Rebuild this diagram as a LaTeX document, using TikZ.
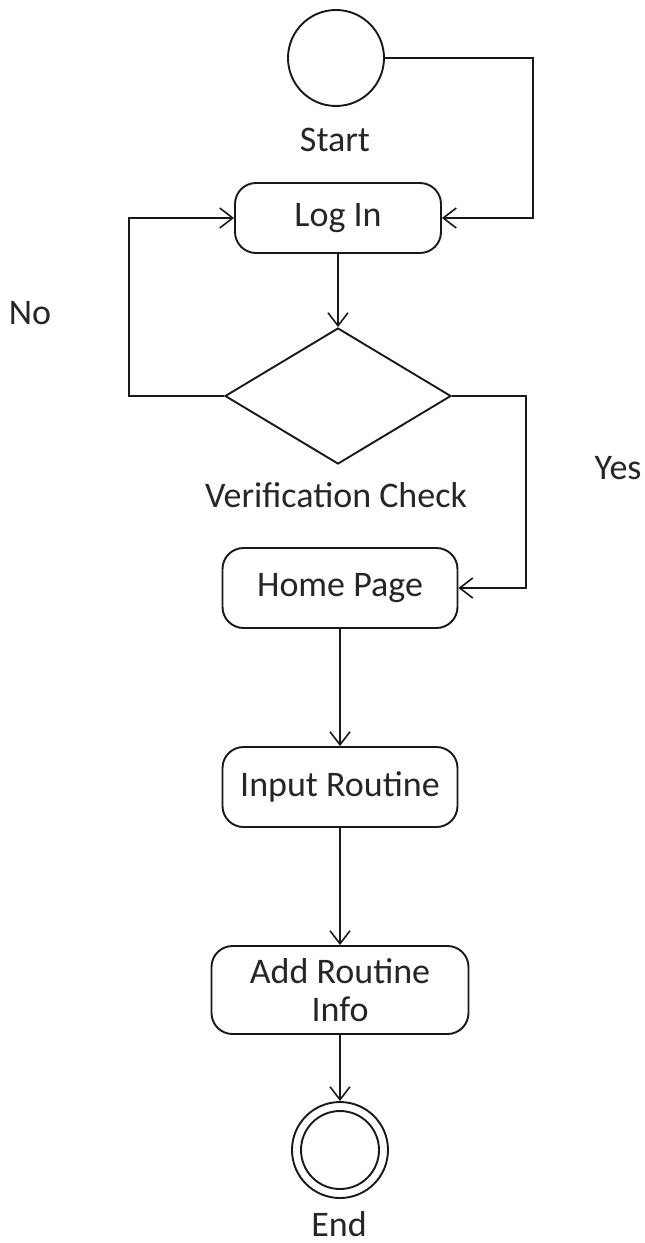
\documentclass[tikz,border=0pt]{standalone}
\usepackage{fontspec}
\setmainfont{Carlito}
\usetikzlibrary{arrows.meta,shapes.geometric}
\tikzset{
  ln/.style={line width=1.9pt, draw=black!90},
  arr/.style={ln, -{Straight Barb[length=13pt,width=20pt,line width=1.6pt]}},
  act/.style={ln, rounded corners=21pt, inner sep=0pt, align=center},
  lbl/.style={inner sep=0pt, text=black!85},
  txt/.style={font=\fontsize{36}{43}\selectfont, text=black!85}
}
\begin{document}
\begin{tikzpicture}[x=1pt,y=-1pt,every node/.style={txt}]
\useasboundingbox (0,0) rectangle (645,1243);
% start
\node[ln, circle, minimum size=96pt, inner sep=0pt] (start) at (336,58) {};
\node[lbl] (startl) at (335,140) {Start};
% log in
\node[act, minimum width=206pt, minimum height=70pt] (login) at (338,218) {Log In};
% diamond
\node[ln, diamond, minimum width=226pt, minimum height=136pt, inner sep=0pt] (check) at (338,396) {};
\node[lbl] (checkl) at (336,495) {Verification Check};
\node[lbl] (no) at (30,313) {No};
\node[lbl] (yes) at (618,468) {Yes};
% activities
\node[act, minimum width=235pt, minimum height=80pt] (home) at (340,588) {Home Page};
\node[act, minimum width=235pt, minimum height=80pt] (input) at (340,787) {Input Routine};
\node[act, minimum width=257pt, minimum height=88pt, text depth=0pt] (add) at (340,990) {Add Routine\\[-5pt]Info};
% end
\node[ln, circle, minimum size=96pt, inner sep=0pt] (end) at (340,1150) {};
\node[ln, circle, minimum size=78pt, inner sep=0pt] (endin) at (340,1150) {};
\node[lbl] (endl) at (339,1224) {End};
% connectors
\draw[arr] (start.east) -- (533,58) |- (login.east);
\draw[arr] (login.south) -- (check.north);
\draw[arr] (check.west) -- (129,396) |- (login.west);
\draw[arr] (check.east) -- (526,396) |- (home.east);
\draw[arr] (home.south) -- (input.north);
\draw[arr] (input.south) -- (add.north);
\draw[arr] (add.south) -- (end.north);
\end{tikzpicture}
\end{document}
